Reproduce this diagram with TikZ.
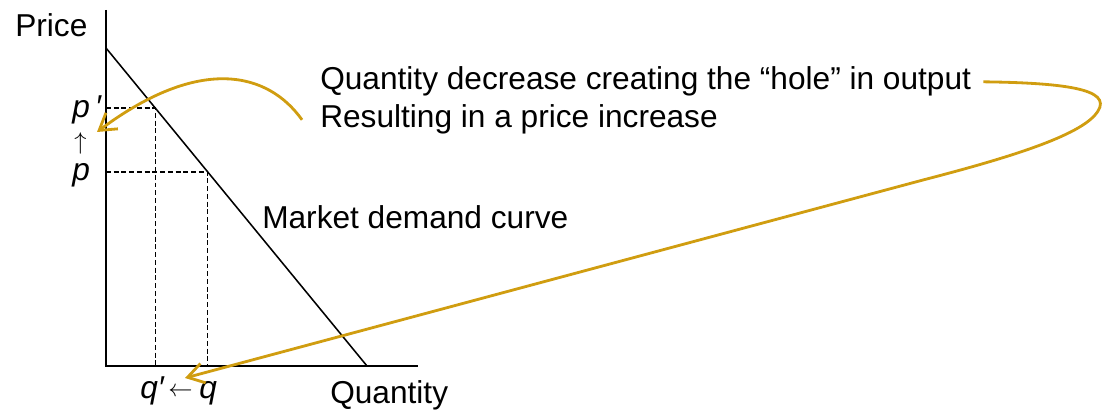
\documentclass[tikz,border=0pt]{standalone}
\usepackage{fontspec}
\setmainfont{Liberation Sans}
\usepackage{xcolor}
\usetikzlibrary{arrows.meta}
\definecolor{gold}{RGB}{208,157,16}
\tikzset{
  axis/.style={line width=1.4pt},
  demand/.style={line width=1.1pt},
  guide/.style={line width=0.8pt, dash pattern=on 3.5pt off 2pt},
  hint/.style={draw=gold, line width=2pt, -{Straight Barb[length=4mm,width=5mm]}},
  lbl/.style={inner sep=0pt, anchor=base west, font=\fontsize{22.5}{27}\selectfont},
  small arrow/.style={lbl, font=\fontsize{18}{22}\selectfont},
}

\begin{document}
\begin{tikzpicture}[x=0.025cm, y=-0.025cm]
    \useasboundingbox (0,0) rectangle (1103,411);
    % axes and demand line
    \coordinate (top) at (106,10);
    \coordinate (O) at (106,366);
    \coordinate (right) at (418,366);
    \draw[axis] (top) -- (O) -- (right);
    \coordinate (D0) at (106,48);
    \coordinate (D1) at (367,366);
    \draw[demand] (D0) -- (D1);
    % old and new points on the curve
    \coordinate (A) at (155.2,108);
    \coordinate (B) at (207.8,172);
    \draw[guide] (A -| O) -- (A) -- (A |- O);
    \draw[guide] (B -| O) -- (B) -- (B |- O);
    % labels
    \node[lbl] (price) at (15,37) {Price};
    \node[lbl] (qty) at (330,404) {Quantity};
    \node[lbl] (pnew) at (72,118) {\itshape p\,′};
    \node[small arrow] (parrow) at (74,150) {$\uparrow$};
    \node[lbl] (pold) at (72,181) {\itshape p};
    \node[lbl] (qnew) at (140,399) {\itshape q′};
    \node[small arrow] (qarrow) at (168,397) {$\leftarrow$};
    \node[lbl] (qold) at (199,399) {\itshape q};
    \node[lbl] (curve) at (262,229) {Market demand curve};
    \node[lbl] (note1) at (320,90) {Quantity decrease creating the “hole” in output};
    \node[lbl] (note2) at (320,128) {Resulting in a price increase};
    % gold arrows
    \coordinate (tip1) at (97,132);
    \coordinate (tip2) at (185,378);
    \draw[hint] ([xshift=-4.5mm]note2.west) .. controls (268,72) and (200,55) .. (tip1);
    \draw[hint] ([xshift=3mm]note1.east) .. controls (1080,83) and (1115,92) .. (1095,115)
        .. controls (1075,138) and (1000,160) .. (923,180) -- (tip2);
\end{tikzpicture}
\end{document}
